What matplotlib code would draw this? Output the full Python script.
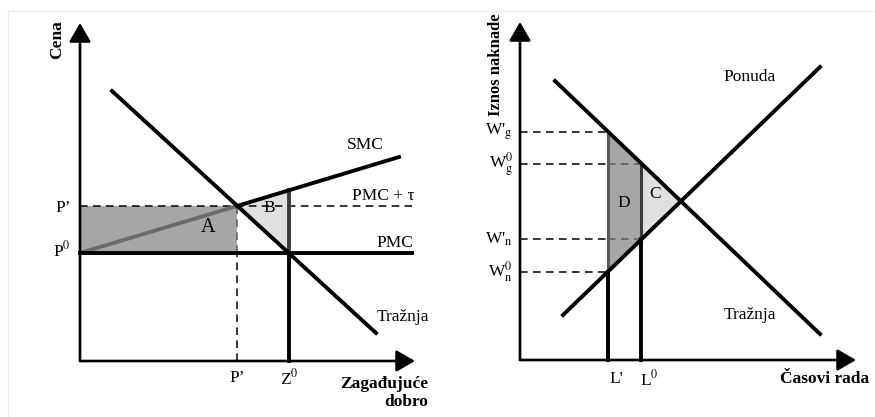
import matplotlib.pyplot as plt
from matplotlib.patches import Polygon

plt.rcParams['font.family'] = ['Liberation Serif', 'DejaVu Serif']
plt.rcParams['mathtext.fontset'] = 'stix'

# ---------- left panel: pollution good market ----------
demand_q = [3.2, 29.6]
demand_p = [27.0, 2.8]
smc_q = [15.7, 31.9]
smc_p = [15.5, 20.4]
pmc_q = [0.0, 33.2]
p0 = 10.8          # private marginal cost
p1 = 15.5          # price with tax (PMC + tau)
q1 = 15.7          # quantity with tax
z0 = 20.9          # quantity without tax
smc_at_z0 = 17.1

# ---------- right panel: labour market ----------
ld_h = [3.5, 30.0]
ld_w = [27.9, 2.6]
ls_h = [4.3, 30.0]
ls_w = [4.5, 29.3]
l1 = 8.8
l0 = 12.1
w1_g = 22.8
w0_g = 19.6
w1_n = 12.1
w0_n = 8.8
eq_h, eq_w = 16.1, 16.0

DARK = '#a6a6a6'
LIGHT = '#e0e0e0'
EDGE = '#5a5a5a'

fig = plt.figure(figsize=(8.75, 4.17), dpi=100)

# faint frame
fig.add_artist(plt.Line2D([8 / 875, 873 / 875], [1 - 11 / 417, 1 - 11 / 417], color='#ececec', lw=1))
fig.add_artist(plt.Line2D([8 / 875, 8 / 875], [0, 1 - 11 / 417], color='#ececec', lw=1))

ax1 = fig.add_axes([0, 0, 437 / 875, 1])
ax1.set_xlim(-8.0, 35.7)
ax1.set_ylim(-5.6, 36.1)
ax2 = fig.add_axes([437 / 875, 0, 438 / 875, 1])
ax2.set_xlim(-8.3, 35.5)
ax2.set_ylim(-5.7, 36.0)
for ax in (ax1, ax2):
    ax.axis('off')
    ax.patch.set_alpha(0)

arrow = dict(arrowstyle='-|>,head_length=0.95,head_width=0.55', mutation_scale=12,
             lw=1.9, color='k', shrinkA=0, shrinkB=0)
lw_main = 2.8
dash = dict(color='k', lw=1.1, ls=(0, (5, 3.5)))
fs = 12.5

# ===== left panel =====
ax = ax1
ax.add_patch(Polygon([(0, p0), (q1, p0), (q1, p1), (0, p1)], closed=True,
                     facecolor=DARK, edgecolor='none', zorder=1))
ax.add_patch(Polygon([(q1, p1), (z0, smc_at_z0), (z0, p0)], closed=True,
                     facecolor=LIGHT, edgecolor='none', zorder=1))
ax.plot([0, pmc_q[1]], [p1, p1], zorder=2, **dash)
ax.plot([q1, q1], [0, p0], zorder=2, **dash)
ax.plot([q1, q1], [p0, p1], color=EDGE, lw=1.1, ls=(0, (5, 3.5)), zorder=2)
ax.plot([0, q1], [p0, p1], color='#6b6b6b', lw=lw_main, solid_capstyle='butt', zorder=3)
ax.plot(smc_q, smc_p, color='k', lw=lw_main, zorder=4)
ax.plot(pmc_q, [p0, p0], color='k', lw=lw_main, zorder=4)
ax.plot(demand_q, demand_p, color='k', lw=lw_main, zorder=4)
ax.plot([z0, z0], [p0, smc_at_z0], color='#3a3a3a', lw=lw_main, zorder=3)
ax.plot([z0, z0], [0, p0], color='k', lw=lw_main, zorder=4)
ax.annotate('', xy=(0, 33.8), xytext=(0, 0), arrowprops=arrow)
ax.annotate('', xy=(33.5, 0), xytext=(0, 0), arrowprops=arrow)

ax.text(-2.3, 32.1, 'Cena', rotation=90, ha='center', va='center', fontsize=fs, fontweight='bold')
ax.text(28.5, 21.6, 'SMC', ha='center', va='center', fontsize=fs)
ax.text(30.3, 16.5, 'PMC + τ', ha='center', va='center', fontsize=fs)
ax.text(31.5, 11.8, 'PMC', ha='center', va='center', fontsize=fs)
ax.text(32.3, 4.4, 'Tražnja', ha='center', va='center', fontsize=fs)
ax.text(12.8, 13.3, 'A', ha='center', va='center', fontsize=14.5)
ax.text(18.9, 15.3, 'B', ha='center', va='center', fontsize=12.5)
ax.text(-0.9, p1 - 0.2, 'P’', ha='right', va='center', fontsize=fs)
ax.text(-0.9, p0 + 0.3, r'P$^{0}$', ha='right', va='center', fontsize=fs)
ax.text(q1, -1.7, 'P’', ha='center', va='center', fontsize=fs)
ax.text(z0, -1.7, r'Z$^{0}$', ha='center', va='center', fontsize=fs)
ax.text(34.8, -3.2, 'Zagađujuće\ndobro', ha='right', va='center', fontsize=fs,
        fontweight='bold', multialignment='right', linespacing=1.2)

# ===== right panel =====
ax = ax2
ax.add_patch(Polygon([(l1, w1_g), (l0, w0_g), (l0, w1_n), (l1, w0_n)], closed=True,
                     facecolor=DARK, edgecolor='none', zorder=1))
ax.add_patch(Polygon([(l0, w0_g), (eq_h, eq_w), (l0, w1_n)], closed=True,
                     facecolor=LIGHT, edgecolor='none', zorder=1))
ax.plot([0, l1], [w1_g, w1_g], zorder=2, **dash)
ax.plot([0, l1], [w0_n, w0_n], zorder=2, **dash)
ax.plot([0, l1], [w0_g, w0_g], zorder=2, **dash)
ax.plot([0, l1], [w1_n, w1_n], zorder=2, **dash)
ax.plot([l1, l0], [w0_g, w0_g], color=EDGE, lw=1.1, ls=(0, (5, 3.5)), zorder=2)
ax.plot([l1, l0], [w1_n, w1_n], color=EDGE, lw=1.1, ls=(0, (5, 3.5)), zorder=2)
ax.plot([l1, l1], [w0_n, w1_g], color=EDGE, lw=2.2, zorder=3)
ax.plot([l0, l0], [w1_n, w0_g], color='#3a3a3a', lw=2.2, zorder=3)
ax.plot([l1, l1], [0, w0_n], color='k', lw=lw_main, zorder=4)
ax.plot([l0, l0], [0, w1_n], color='k', lw=lw_main, zorder=4)
ax.plot(ld_h, ld_w, color='k', lw=lw_main, zorder=4)
ax.plot(ls_h, ls_w, color='k', lw=lw_main, zorder=4)
ax.annotate('', xy=(0, 33.8), xytext=(0, 0), arrowprops=arrow)
ax.annotate('', xy=(33.6, 0), xytext=(0, 0), arrowprops=arrow)

ax.text(-2.4, 29.5, 'Iznos naknade', rotation=90, ha='center', va='center', fontsize=12,
        fontweight='bold')
ax.text(23.0, 28.3, 'Ponuda', ha='center', va='center', fontsize=fs)
ax.text(23.0, 4.5, 'Tražnja', ha='center', va='center', fontsize=fs)
ax.text(10.4, 15.7, 'D', ha='center', va='center', fontsize=fs)
ax.text(13.5, 16.6, 'C', ha='center', va='center', fontsize=fs)
ax.text(-0.7, w1_g, r"W'$_{\mathrm{g}}$", ha='right', va='center', fontsize=fs)
ax.text(-0.7, w0_g, r"W$^{0}_{\mathrm{g}}$", ha='right', va='center', fontsize=fs)
ax.text(-0.7, w1_n, r"W'$_{\mathrm{n}}$", ha='right', va='center', fontsize=fs)
ax.text(-0.7, w0_n, r"W$^{0}_{\mathrm{n}}$", ha='right', va='center', fontsize=fs)
ax.text(9.6, -1.9, "L'", ha='center', va='center', fontsize=fs)
ax.text(12.9, -1.9, r'L$^{0}$', ha='center', va='center', fontsize=fs)
ax.text(30.5, -1.9, 'Časovi rada', ha='center', va='center', fontsize=fs, fontweight='bold')

fig.savefig('out.png', dpi=100)
